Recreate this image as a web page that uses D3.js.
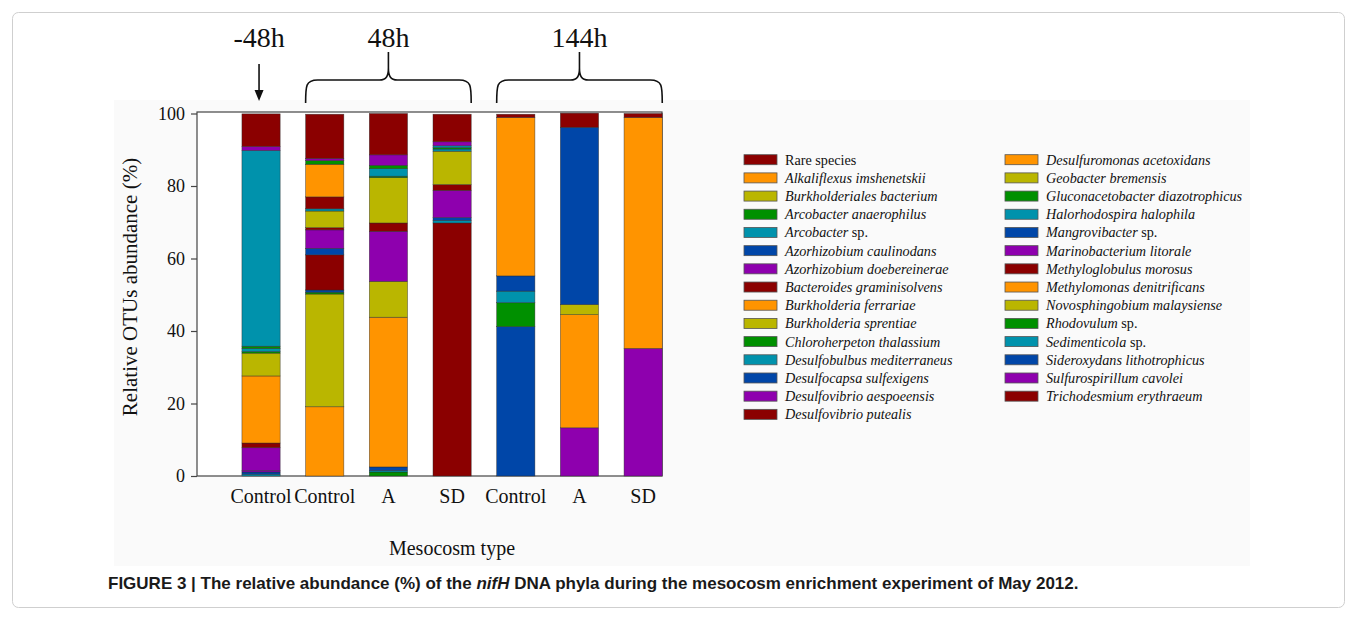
<!DOCTYPE html>
<html>
<head>
<meta charset="utf-8">
<script src="https://cdn.jsdelivr.net/npm/d3@7"></script>
<style>
  body { margin: 0; background: #fff; }
  svg { display: block; }
</style>
</head>
<body>
<div id="chart"></div>
<script>
  // bar order, left to right
  const bars = ["Control -48h", "Control 48h", "A 48h", "SD 48h", "Control 144h", "A 144h", "SD 144h"];
  const barLabels = ["Control", "Control", "A", "SD", "Control", "A", "SD"];
  const yTicks = [0, 20, 40, 60, 80, 100];

  // legend order; [name, suffix in roman]
  const species = [
    ["Rare species", ""], ["Alkaliflexus imshenetskii", ""], ["Burkholderiales bacterium", ""],
    ["Arcobacter anaerophilus", ""], ["Arcobacter", " sp."], ["Azorhizobium caulinodans", ""],
    ["Azorhizobium doebereinerae", ""], ["Bacteroides graminisolvens", ""], ["Burkholderia ferrariae", ""],
    ["Burkholderia sprentiae", ""], ["Chloroherpeton thalassium", ""], ["Desulfobulbus mediterraneus", ""],
    ["Desulfocapsa sulfexigens", ""], ["Desulfovibrio aespoeensis", ""], ["Desulfovibrio putealis", ""],
    ["Desulfuromonas acetoxidans", ""], ["Geobacter bremensis", ""], ["Gluconacetobacter diazotrophicus", ""],
    ["Halorhodospira halophila", ""], ["Mangrovibacter", " sp."], ["Marinobacterium litorale", ""],
    ["Methyloglobulus morosus", ""], ["Methylomonas denitrificans", ""], ["Novosphingobium malaysiense", ""],
    ["Rhodovulum", " sp."], ["Sedimenticola", " sp."], ["Sideroxydans lithotrophicus", ""],
    ["Sulfurospirillum cavolei", ""], ["Trichodesmium erythraeum", ""]
  ];

  // % abundance per species (legend order), one value per bar
  const abundance = [
    [9.0, 12.2, 11.4, 7.6, 0.9, 3.9, 1.1],
    [0, 19.1, 0, 0, 0, 0, 0],
    [0, 31.1, 0, 0, 0, 0, 0],
    [0, 0.5, 1.1, 0, 0, 0, 0],
    [0.5, 0, 0.4, 0, 0, 0, 0],
    [0.6, 0.6, 1.0, 0, 0, 0, 0],
    [0.4, 0, 0, 0, 0, 0, 0],
    [0, 9.7, 0, 69.8, 0, 0, 0],
    [0, 0, 41.3, 0, 0, 0, 0],
    [0, 0, 9.9, 0, 0, 0, 0],
    [0, 0, 0, 0, 0, 0, 0],
    [0, 0, 0, 0.7, 0, 0, 0],
    [0, 1.8, 0, 0.8, 41.2, 0, 0],
    [6.3, 5.1, 13.8, 7.5, 0, 13.3, 35.2],
    [1.3, 0.6, 2.3, 1.6, 0, 0, 0],
    [18.5, 0, 0, 0, 0, 31.2, 63.7],
    [6.3, 4.6, 12.5, 9.2, 0, 2.8, 0],
    [0.4, 0, 0.4, 0, 6.6, 0, 0],
    [0.9, 0.6, 2.1, 0.6, 3.2, 0, 0],
    [0, 0, 0, 0, 4.2, 48.9, 0],
    [0, 0, 0, 0, 0, 0, 0],
    [0, 3.3, 0, 0, 0, 0, 0],
    [0, 9.0, 0, 0, 43.7, 0, 0],
    [0, 0, 0, 0, 0, 0, 0],
    [0.6, 1.0, 0.9, 0.4, 0, 0, 0],
    [54.0, 0, 0, 0.5, 0, 0, 0],
    [0, 0, 0, 0, 0, 0, 0],
    [1.1, 0.6, 2.9, 1.1, 0, 0, 0],
    [0, 0, 0, 0, 0, 0, 0]
  ];

  const palette = ["#8b0000", "#ff9400", "#bab600", "#009000", "#0092ac", "#0046a8", "#8e00ae"];

  const width = 1357;
  const height = 630;
  const serif = "'Liberation Serif', 'Times New Roman', serif";

  const svg = d3.select("#chart").append("svg")
    .attr("width", width)
    .attr("height", height);

  // figure frame and faint panel behind the chart
  svg.append("rect")
    .attr("x", 12.5).attr("y", 12.5)
    .attr("width", 1332).attr("height", 595)
    .attr("rx", 6)
    .style("fill", "#fff")
    .style("stroke", "#cfcfcf");
  svg.append("rect")
    .attr("x", 114).attr("y", 100)
    .attr("width", 1136).attr("height", 466)
    .style("fill", "#fafafa");

  const plot = { left: 197, right: 662, top: 113.5, bottom: 476 };
  svg.append("rect")
    .attr("x", plot.left).attr("y", plot.top - 1.5)
    .attr("width", plot.right - plot.left).attr("height", plot.bottom - plot.top + 1.5)
    .style("fill", "#fff")
    .style("stroke", "#444")
    .style("stroke-width", 1.2);

  const x = d3.scaleBand()
    .domain(bars)
    .range([229.2, 675])
    .paddingInner(0.4)
    .paddingOuter(0.2);

  const y = d3.scaleLinear()
    .domain([0, 100])
    .range([plot.bottom, plot.top]);

  // stacked from bottom: legend entries 1..28, rare species on top
  const order = d3.range(1, species.length).concat([0]);
  const rows = bars.map(function(b, j) {
    const row = { bar: b };
    species.forEach(function(s, i) { row[i] = abundance[i][j]; });
    return row;
  });
  const stacked = d3.stack().keys(order)(rows);

  svg.append("g").selectAll("g")
    .data(stacked)
    .enter().append("g")
    .style("fill", function(d) { return palette[d.key % 7]; })
    .selectAll("rect")
    .data(function(d) { return d.filter(function(p) { return p[1] - p[0] > 0; }); })
    .enter().append("rect")
    .attr("x", function(d) { return x(d.data.bar); })
    .attr("width", x.bandwidth())
    .attr("y", function(d) { return y(d[1]); })
    .attr("height", function(d) { return y(d[0]) - y(d[1]); })
    .style("stroke", "#2a2a2a")
    .style("stroke-width", 0.6)
    .style("stroke-opacity", 0.7);

  // y axis
  const yAxis = svg.append("g")
    .attr("transform", "translate(" + plot.left + ",0)")
    .call(d3.axisLeft(y).tickValues(yTicks).tickSize(6).tickPadding(6));
  yAxis.select(".domain").remove();
  yAxis.selectAll("line").style("stroke", "#444").style("stroke-width", 1.2);
  yAxis.selectAll("text")
    .style("font-family", serif)
    .style("font-size", "18px")
    .style("fill", "#111");

  // bar labels
  svg.append("g").selectAll("text")
    .data(bars)
    .enter().append("text")
    .attr("x", function(d) { return x(d) + x.bandwidth() / 2; })
    .attr("y", 503)
    .attr("text-anchor", "middle")
    .style("font-family", serif)
    .style("font-size", "20px")
    .style("fill", "#111")
    .text(function(d, i) { return barLabels[i]; });

  svg.append("text")
    .attr("transform", "translate(137,287) rotate(-90)")
    .attr("text-anchor", "middle")
    .style("font-family", serif)
    .style("font-size", "21px")
    .style("fill", "#111")
    .text("Relative OTUs abundance (%)");

  svg.append("text")
    .attr("x", 452).attr("y", 555)
    .attr("text-anchor", "middle")
    .style("font-family", serif)
    .style("font-size", "20px")
    .style("fill", "#111")
    .text("Mesocosm type");

  // time markers above the bars
  const mid = function(b) { return x(b) + x.bandwidth() / 2; };
  const arrowX = mid(bars[0]) - 2;
  svg.append("line")
    .attr("x1", arrowX).attr("x2", arrowX)
    .attr("y1", 64).attr("y2", 92)
    .style("stroke", "#111").style("stroke-width", 1.6);
  svg.append("path")
    .attr("d", "M" + (arrowX - 4.5) + ",90 L" + (arrowX + 4.5) + ",90 L" + arrowX + ",101 Z")
    .style("fill", "#111");

  const brace = function(xl, xr) {
    const xc = (xl + xr) / 2;
    return "M" + xl + ",103 C" + xl + ",86 " + xl + ",80 " + (xl + 12) + ",80" +
      " L" + (xc - 9) + ",80 C" + (xc - 2) + ",80 " + xc + ",76 " + xc + ",68 L" + xc + ",52" +
      " M" + xc + ",68 C" + xc + ",76 " + (xc + 2) + ",80 " + (xc + 9) + ",80" +
      " L" + (xr - 12) + ",80 C" + xr + ",80 " + xr + ",86 " + xr + ",103";
  };
  const groups = [
    { label: "-48h", cx: arrowX },
    { label: "48h", from: bars[1], to: bars[3] },
    { label: "144h", from: bars[4], to: bars[6] }
  ];
  groups.forEach(function(g) {
    if (g.from) {
      const xl = x(g.from), xr = x(g.to) + x.bandwidth();
      g.cx = (xl + xr) / 2;
      svg.append("path")
        .attr("d", brace(xl, xr))
        .style("fill", "none")
        .style("stroke", "#111")
        .style("stroke-width", 1.6);
    }
    svg.append("text")
      .attr("x", g.cx).attr("y", 47)
      .attr("text-anchor", "middle")
      .style("font-family", serif)
      .style("font-size", "28px")
      .style("fill", "#111")
      .text(g.label);
  });

  // legend, two columns
  const legend = svg.append("g");
  const item = legend.selectAll("g")
    .data(species)
    .enter().append("g")
    .attr("transform", function(d, i) {
      const col = i < 15 ? 0 : 1;
      const row = i < 15 ? i : i - 15;
      return "translate(" + (col ? 1005 : 744) + "," + (159.7 + row * 18.19) + ")";
    });
  item.append("rect")
    .attr("x", 0).attr("y", -5)
    .attr("width", 33).attr("height", 10)
    .style("fill", function(d, i) { return palette[i % 7]; })
    .style("stroke", "#555")
    .style("stroke-width", 0.8);
  const label = item.append("text")
    .attr("x", 41).attr("y", 5)
    .style("font-family", serif)
    .style("font-size", "14.2px")
    .style("fill", "#111");
  label.append("tspan")
    .style("font-style", function(d, i) { return i === 0 ? "normal" : "italic"; })
    .text(function(d) { return d[0]; });
  label.append("tspan")
    .text(function(d) { return d[1]; });

  // caption
  const caption = svg.append("text")
    .attr("x", 108).attr("y", 589)
    .style("font-family", "'Liberation Sans', Arial, sans-serif")
    .style("font-size", "17px")
    .style("font-weight", "bold")
    .style("fill", "#1a1a1a");
  caption.append("tspan").text("FIGURE 3 | The relative abundance (%) of the ");
  caption.append("tspan").style("font-style", "italic").text("nifH");
  caption.append("tspan").text(" DNA phyla during the mesocosm enrichment experiment of May 2012.");
</script>
</body>
</html>
